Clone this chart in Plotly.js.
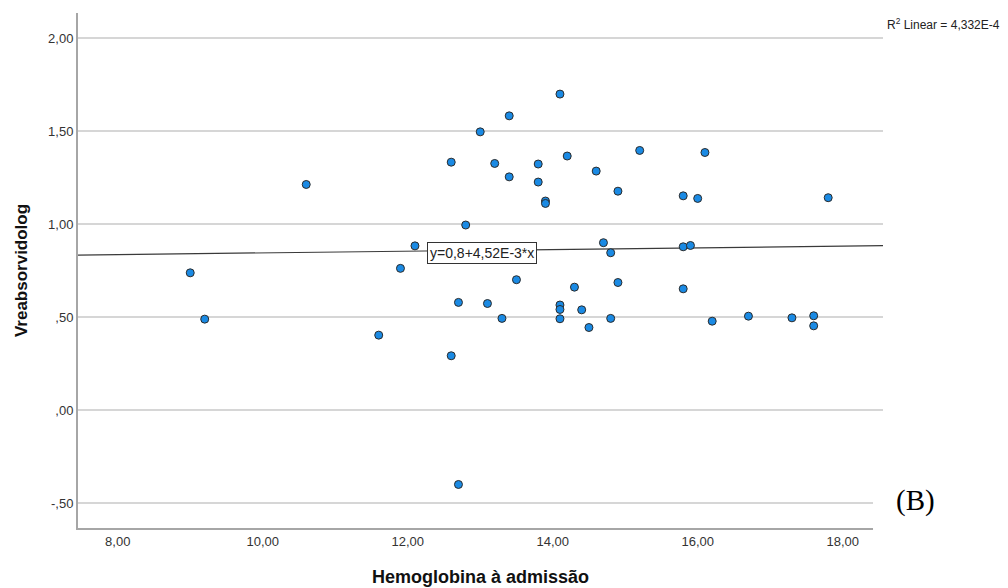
<!DOCTYPE html>
<html>
<head>
<meta charset="utf-8">
<script src="https://cdn.plot.ly/plotly-3.0.1.min.js"></script>
<style>html,body{margin:0;padding:0;background:#fff;}#chart{width:1008px;height:588px;}</style>
</head>
<body>
<div id="chart"></div>
<script>
// Hemoglobina à admissão (x) vs Vreabsorvidolog (y)
const hemoglobina = [
  10.6, 9.0, 9.2,
  14.1, 13.4, 13.0, 15.2, 12.6, 13.2, 13.8, 14.2, 13.4, 13.8, 14.6, 14.9,
  13.9, 13.9, 12.8, 12.1, 14.7, 14.8, 11.9, 13.5, 14.3, 14.9, 12.7, 13.1,
  14.1, 14.1, 14.4, 13.3, 14.1, 14.8, 14.5, 11.6, 12.6, 12.7,
  16.1, 15.8, 16.0, 17.8, 15.8, 15.9, 15.8,
  16.2, 16.7, 17.3, 17.6, 17.6
];
const vreabsorvidolog = [
  1.213, 0.738, 0.489,
  1.699, 1.582, 1.496, 1.396, 1.333, 1.326, 1.323, 1.366, 1.254, 1.226, 1.285, 1.177,
  1.124, 1.111, 0.995, 0.883, 0.900, 0.846, 0.762, 0.701, 0.661, 0.686, 0.579, 0.573,
  0.565, 0.541, 0.539, 0.493, 0.491, 0.493, 0.444, 0.403, 0.292, -0.400,
  1.385, 1.152, 1.138, 1.142, 0.878, 0.885, 0.652,
  0.478, 0.505, 0.496, 0.507, 0.453
];
// Fit line: y = intercept + slope * x
const fitIntercept = 0.8;
const fitSlope = 4.52e-3;
const fitLabel = "y=0,8+4,52E-3*x";
const r2Label = "R<sup>2</sup> Linear = 4,332E-4";

const xTickVals = [8, 10, 12, 14, 16, 18];
const xTickText = ["8,00", "10,00", "12,00", "14,00", "16,00", "18,00"];
const yTickVals = [-0.5, 0, 0.5, 1, 1.5, 2];
const yTickText = ["-,50", ",00", ",50", "1,00", "1,50", "2,00"];

const xRange = [7.452, 18.556];
const yRange = [-0.634, 2.135];

const fitX = xRange.slice();
const fitY = fitX.map(v => fitIntercept + fitSlope * v);

const font = "Liberation Sans, Arial, sans-serif";

const traces = [
  {
    x: fitX, y: fitY, mode: "lines", type: "scatter",
    line: {color: "#3a3a3a", width: 1.2}, hoverinfo: "skip", showlegend: false
  },
  {
    x: hemoglobina, y: vreabsorvidolog, mode: "markers", type: "scatter",
    marker: {size: 8, color: "#1a8ae4", line: {color: "#2b2b2b", width: 1}},
    showlegend: false
  }
];

const layout = {
  width: 1008, height: 588,
  margin: {l: 78, r: 125, t: 13, b: 60},
  paper_bgcolor: "#ffffff", plot_bgcolor: "#ffffff",
  font: {family: font, color: "#333333", size: 13},
  showlegend: false,
  xaxis: {
    range: xRange, tickvals: xTickVals, ticktext: xTickText,
    showgrid: false, zeroline: false, showline: true,
    linecolor: "#a6a6a6", linewidth: 2, ticks: "",
    tickfont: {family: font, size: 13, color: "#333333"},
    title: {text: "Hemoglobina à admissão", font: {family: font, size: 18, color: "#111111", weight: "bold"}, standoff: 23}
  },
  yaxis: {
    range: yRange, tickvals: yTickVals, ticktext: yTickText,
    showgrid: true, gridcolor: "#d6d6d6", gridwidth: 1.5,
    zeroline: false, showline: true,
    linecolor: "#a6a6a6", linewidth: 2, ticks: "",
    tickfont: {family: font, size: 13, color: "#333333"},
    title: {text: "Vreabsorvidolog", font: {family: font, size: 17, color: "#111111", weight: "bold"}, standoff: 16}
  },
  shapes: [
    {type: "rect", xref: "paper", yref: "paper", layer: "above",
     x0: 0.9876, x1: 1.11, y0: -0.02, y1: 0.09,
     fillcolor: "#ffffff", line: {width: 0}}
  ],
  annotations: [
    {xref: "x", yref: "y", x: 13.02, y: 0.844, text: fitLabel, showarrow: false,
     font: {family: font, size: 14, color: "#222222"},
     bgcolor: "#ffffff", bordercolor: "#333333", borderwidth: 1, borderpad: 2},
    {xref: "paper", yref: "paper", x: 1.0025, y: 0.9786, xanchor: "left", yanchor: "middle",
     text: r2Label, showarrow: false, font: {family: font, size: 12, color: "#222222"}},
    {xref: "paper", yref: "paper", x: 1.0398, y: 0.053, xanchor: "center", yanchor: "middle",
     text: "(B)", showarrow: false, font: {family: "Liberation Serif, Times New Roman, serif", size: 29, color: "#000000"}}
  ]
};

Plotly.newPlot("chart", traces, layout, {staticPlot: true, displayModeBar: false});
</script>
</body>
</html>
